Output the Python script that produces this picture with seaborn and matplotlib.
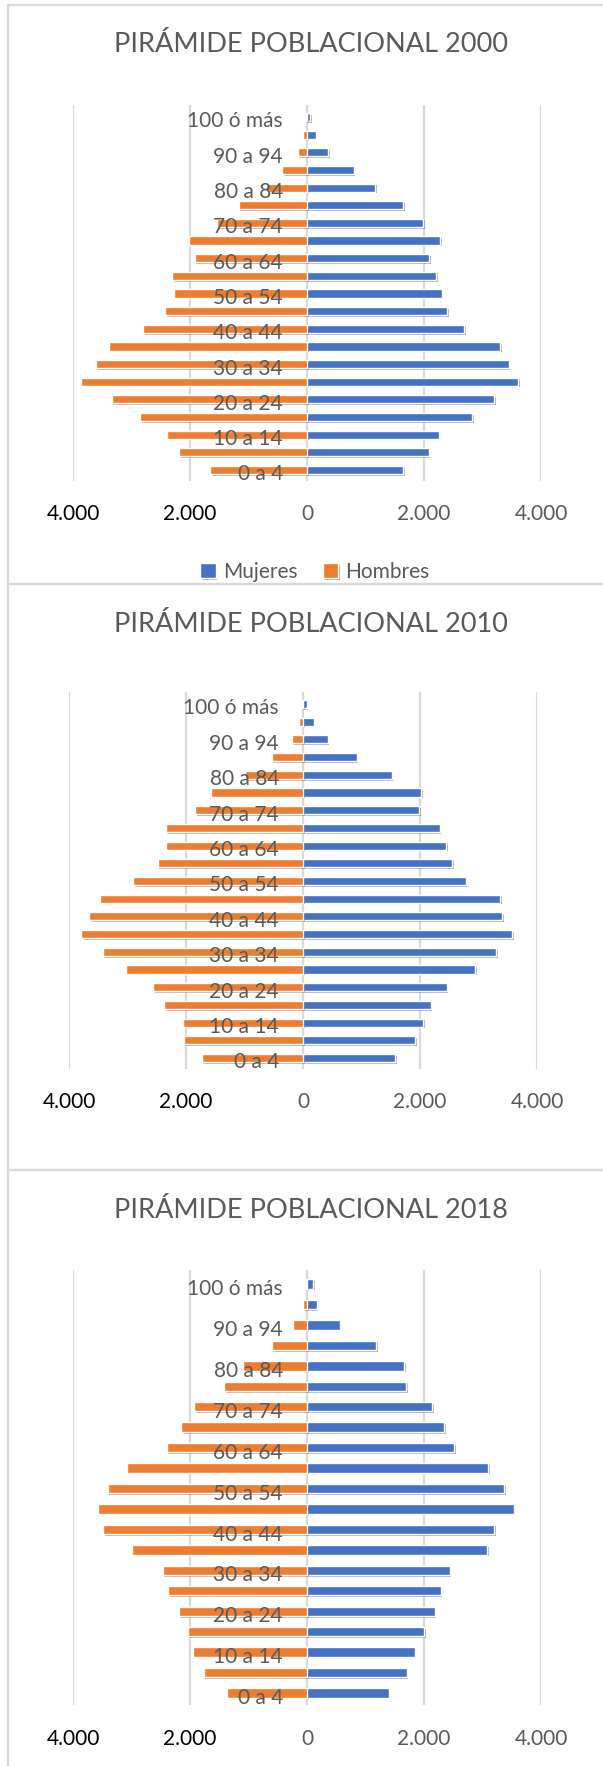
import pandas as pd
import matplotlib.pyplot as plt
import matplotlib.patheffects as pe
from matplotlib.patches import Rectangle
import seaborn as sns

grupos = ['0 a 4', '5 a 9', '10 a 14', '15 a 19', '20 a 24', '25 a 29', '30 a 34',
          '35 a 39', '40 a 44', '45 a 49', '50 a 54', '55 a 59', '60 a 64', '65 a 69',
          '70 a 74', '75 a 79', '80 a 84', '85 a 89', '90 a 94', '95 a 99', '100 ó más']

mujeres_2000 = [1640, 2080, 2250, 2825, 3205, 3610, 3450, 3300, 2690, 2400, 2300,
                2210, 2090, 2280, 1990, 1640, 1165, 795, 360, 150, 50]
hombres_2000 = [1650, 2185, 2385, 2850, 3340, 3855, 3610, 3380, 2805, 2430, 2265,
                2300, 1920, 2020, 1540, 1170, 700, 420, 160, 65, 20]

mujeres_2010 = [1580, 1920, 2055, 2180, 2455, 2945, 3300, 3570, 3400, 3375, 2780,
                2555, 2445, 2335, 1990, 2020, 1515, 915, 420, 180, 60]
hombres_2010 = [1735, 2030, 2050, 2370, 2565, 3020, 3425, 3795, 3660, 3465, 2900,
                2485, 2335, 2350, 1840, 1580, 990, 535, 195, 65, 20]

mujeres_2018 = [1395, 1705, 1840, 2000, 2180, 2285, 2440, 3085, 3200, 3530, 3370,
                3100, 2520, 2345, 2145, 1695, 1660, 1180, 560, 165, 100]
hombres_2018 = [1370, 1765, 1950, 2035, 2195, 2375, 2470, 2990, 3480, 3570, 3410,
                3085, 2400, 2150, 1925, 1420, 1095, 605, 245, 65, 25]

ticks = [-4000, -2000, 0, 2000, 4000]
tick_labels = ['4.000', '2.000', '0', '2.000', '4.000']
tick_colores = ['#000000', '#000000', '#595959', '#595959', '#595959']

W, H = 603, 1766
AZUL = '#4472C4'
NARANJA = '#ED7D31'
GRIS = '#595959'
BORDE = '#d9d9d9'

sns.set_style('white')
plt.rcParams['font.family'] = ['Lato', 'DejaVu Sans']


def caja(izq, arriba, der, abajo):
    # rectangulo en pixeles -> fracciones de figura
    return [izq / W, 1 - abajo / H, (der - izq) / W, (abajo - arriba) / H]


def piramide(fig, anio, mujeres, hombres, eje, titulo_y, leyenda_y=None):
    df = pd.DataFrame({
        'grupo': grupos * 2,
        'sexo': ['Mujeres'] * len(grupos) + ['Hombres'] * len(grupos),
        'valor': mujeres + [-h for h in hombres],
    })
    ax = fig.add_axes(caja(*eje))
    sns.barplot(data=df, x='valor', y='grupo', hue='sexo',
                hue_order=['Mujeres', 'Hombres'], order=grupos[::-1],
                palette={'Mujeres': AZUL, 'Hombres': NARANJA},
                dodge=False, width=0.46, saturation=1, errorbar=None,
                legend=leyenda_y is not None, ax=ax, zorder=3)

    for p in ax.patches:
        p.set_path_effects([pe.SimplePatchShadow(offset=(1.2, -1.2), alpha=0.35),
                            pe.Normal()])

    ax.set_xlim(-4000, 4000)
    ax.set_ylim(20.6, -0.7)
    ax.set_xticks(ticks)
    ax.set_xticklabels(tick_labels, fontsize=15)
    for lab, c in zip(ax.get_xticklabels(), tick_colores):
        lab.set_color(c)
    ax.set_yticks([])
    ax.set_xlabel('')
    ax.set_ylabel('')
    ax.tick_params(axis='x', length=0, pad=17)
    ax.grid(axis='x', color=BORDE, lw=1.6)
    ax.set_axisbelow(True)
    for sp in ax.spines.values():
        sp.set_visible(False)

    orden = grupos[::-1]
    for i, g in enumerate(orden):
        if grupos.index(g) % 2 == 0:
            ax.text(-410, i + 0.25, g, ha='right', va='center',
                    fontsize=15, color=GRIS, zorder=4)

    fig.text(311 / W, 1 - titulo_y / H, f'PIRÁMIDE POBLACIONAL {anio}',
             ha='center', va='center', fontsize=19.5, color=GRIS)

    if leyenda_y is not None:
        h, labs = ax.get_legend_handles_labels()
        ax.legend(h, labs, loc='center', bbox_to_anchor=(315 / W, 1 - leyenda_y / H),
                  bbox_transform=fig.transFigure, ncol=2, frameon=False,
                  fontsize=15, labelcolor=GRIS, handlelength=0.75, handleheight=0.75,
                  handletextpad=0.35, columnspacing=1.2)
    return ax


fig = plt.figure(figsize=(W / 100, H / 100), dpi=100)

# marcos de cada grafico
for arriba, abajo in [(5, 584), (584, 1170), (1170, 1790)]:
    fig.add_artist(Rectangle((8 / W, 1 - abajo / H), 1, (abajo - arriba) / H,
                             transform=fig.transFigure, fill=False,
                             ec=BORDE, lw=1.6))

piramide(fig, 2000, mujeres_2000, hombres_2000, (73, 104.6, 541, 480.6), 44, leyenda_y=572)
piramide(fig, 2010, mujeres_2010, hombres_2010, (69, 691.6, 537, 1068.6), 624)
piramide(fig, 2018, mujeres_2018, hombres_2018, (73, 1269.7, 541, 1705.3), 1210)

fig.savefig('out.png', dpi=100)
